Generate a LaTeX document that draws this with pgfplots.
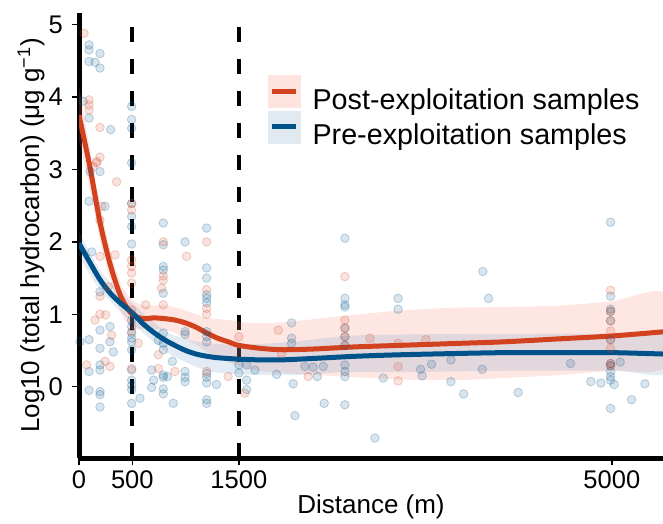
\documentclass[border=0pt]{standalone}
\usepackage{fontspec}
\setmainfont{Liberation Sans}
\usepackage{pgfplots}
\usepackage{pgfplotstable}
\pgfplotsset{compat=1.18}
\definecolor{postred}{HTML}{D2421F}
\definecolor{prebl}{HTML}{00538A}
\definecolor{postband}{HTML}{FA8072}
\definecolor{preband}{HTML}{4682B4}
\definecolor{postkey}{HTML}{FEE4DE}
\definecolor{prekey}{HTML}{E1EAF0}

\pgfplotstableread{
x y
94 4.72
94 4.65
197 4.60
94 4.49
150 4.48
197 4.40
40 3.94
94 3.71
297 3.55
494 3.87
494 3.69
494 3.57
494 3.09
103 2.97
197 2.97
94 2.56
244 2.49
494 2.53
494 2.35
494 2.21
494 1.97
791 2.26
1198 2.19
995 2.00
791 1.96
791 1.66
791 1.61
791 1.29
1198 1.64
1198 1.50
1198 1.27
1198 1.22
1198 1.16
119 1.86
197 1.31
9 0.62
94 0.65
197 0.78
291 0.83
197 0.53
291 0.62
322 0.48
197 0.30
197 0.23
94 0.21
94 -0.05
197 -0.07
197 -0.11
197 -0.28
494 0.92
494 0.83
494 0.74
494 0.67
494 0.62
494 0.51
494 0.23
494 0.09
494 0.02
494 -0.04
494 -0.23
572 -0.16
791 0.74
791 0.60
791 0.51
791 0.16
791 0.13
791 -0.03
791 -0.10
682 0.23
700 0.09
682 -0.01
876 0.35
885 -0.23
744 0.64
830 0.14
995 0.76
995 0.72
995 0.21
995 0.13
995 0.07
1198 0.76
1198 0.69
1198 0.62
1198 0.18
1198 0.13
1198 0.05
1198 -0.18
1198 -0.23
1290 0.03
1500 0.30
1500 0.19
1573 0.30
1573 0.09
1573 -0.04
1651 0.23
1854 0.17
1995 0.88
1995 0.67
1995 0.60
2010 0.04
2026 -0.40
2120 0.28
2198 0.27
2292 0.28
2236 0.14
2301 -0.23
2495 2.05
2495 1.22
2495 1.13
2495 1.10
2495 0.81
2495 0.69
2495 0.57
2495 0.30
2495 0.21
2495 0.14
2495 -0.25
2777 -0.71
2855 0.12
2994 1.22
2994 1.07
3205 0.24
3220 0.15
3308 0.31
3490 0.37
3490 0.07
3609 -0.10
3790 1.59
3843 1.22
3784 0.24
4121 -0.08
4612 0.32
4803 0.07
4897 0.05
5022 0.03
5078 0.34
5185 -0.18
5310 0.04
4988 2.27
4988 1.25
4988 1.07
4988 1.04
4988 0.91
4988 0.65
4988 0.32
4988 0.29
4988 0.21
4988 0.14
4988 0.09
4988 -0.30
}\prepts

\pgfplotstableread{
x y
47 4.88
94 3.96
94 3.89
94 3.82
197 3.58
197 3.17
166 3.11
166 3.09
131 3.04
353 2.83
213 2.49
494 2.53
494 2.44
197 2.30
791 2.00
1198 2.00
1010 1.80
338 1.82
791 1.53
791 1.47
775 1.36
1198 1.34
494 1.75
494 1.66
494 1.57
494 1.43
197 1.80
197 1.25
275 1.38
197 1.00
250 0.99
150 0.92
306 0.71
244 0.35
291 0.28
72 0.30
494 1.06
494 0.76
556 0.60
494 0.25
791 1.13
744 0.44
744 0.25
900 0.21
626 1.13
1198 1.08
1198 1.00
1198 0.21
1400 0.14
1500 0.69
1557 -0.09
1870 0.78
1901 0.46
2151 0.14
2495 1.52
2495 0.92
2495 0.81
2495 0.69
2495 0.57
2730 0.67
2994 0.60
2994 0.28
2994 0.08
3255 0.65
4988 1.33
4988 1.04
4988 0.91
4988 0.77
4988 0.65
4988 0.53
4988 0.32
4988 0.29
}\postpts

\begin{document}
\begin{tikzpicture}
\useasboundingbox (0,0) rectangle (663pt,523pt);
\begin{axis}[
  at={(79pt,65pt)}, anchor=south west,
  scale only axis, width=584pt, height=445pt,
  xmin=0, xmax=5480, ymin=-0.985, ymax=5.16,
  axis x line*=bottom, axis y line*=left,
  axis line style={line width=5pt, -},
  xtick={0,500,1500,5000}, ytick={0,1,2,3,4,5},
  scaled x ticks=false,
  tick align=outside, major tick length=7pt,
  tick style={black, line width=1.5pt},
  /pgf/number format/assume math mode=true,
  /pgf/number format/1000 sep={},
  ticklabel style={font=\fontsize{25.5}{26}\selectfont},
  xticklabel style={anchor=base, yshift=-23.6pt, inner sep=0pt},
  yticklabel style={anchor=east, inner sep=0pt, xshift=-9pt},
  xlabel={Distance (m)},
  xlabel style={at={(axis description cs:0.5,-0.1258)}, anchor=base, font=\fontsize{26}{28}\selectfont},
  ylabel={Log10 (total hydrocarbon) (μg g\textsuperscript{−1})},
  ylabel style={at={(axis description cs:-0.082,0.5)}, anchor=center, font=\fontsize{26}{28}\selectfont},
  legend style={at={(axis description cs:0.3236,0.8607)}, anchor=north west, draw=none, fill=none,
    font=\fontsize{28.7}{30}\selectfont, inner sep=0pt, row sep=0pt, column sep=12pt,
    nodes={inner sep=0pt, anchor=west}},
  legend cell align=left,
]
% reference lines
\addplot[black, line width=4pt, dash pattern=on 15pt off 17pt, forget plot] coordinates {(500,-0.985) (500,5.16)};
\addplot[black, line width=4pt, dash pattern=on 15pt off 17pt, forget plot] coordinates {(1500,-0.985) (1500,5.16)};
% points
\addplot[only marks, mark=*, mark size=4.3pt, mark options={fill=prebl, draw=prebl, fill opacity=0.15, draw opacity=0.25, line width=0.8pt}, forget plot] table {\prepts};
\addplot[only marks, mark=*, mark size=4.3pt, mark options={fill=postred, draw=postred, fill opacity=0.15, draw opacity=0.25, line width=0.8pt}, forget plot] table {\postpts};
% confidence bands
\addplot[fill=postband, fill opacity=0.2, draw=none, smooth, forget plot] coordinates {
(0,4.15) (100,3.3) (200,2.5) (300,1.85) (400,1.4) (500,1.2) (600,1.12) (700,1.12) (800,1.12) (900,1.10) (1000,1.05) (1100,1.0) (1200,0.95) (1400,0.92) (1600,0.88) (1800,0.88) (2000,0.9) (2500,0.98) (3000,1.05) (3500,1.09) (4000,1.10) (4500,1.12) (5000,1.18) (5500,1.28)
(5500,0.28) (5000,0.22) (4500,0.16) (4000,0.12) (3500,0.09) (3000,0.10) (2500,0.14) (2000,0.18) (1800,0.20) (1600,0.24) (1400,0.34) (1200,0.48) (1100,0.58) (1000,0.66) (900,0.74) (800,0.78) (700,0.8) (600,0.8) (500,0.8) (400,1.0) (300,1.45) (200,2.0) (100,2.75) (0,3.40)
} -- cycle;
\addplot[fill=preband, fill opacity=0.15, draw=none, smooth, forget plot] coordinates {
(0,2.15) (200,1.6) (500,1.15) (800,0.78) (1000,0.66) (1200,0.6) (1500,0.58) (2000,0.62) (2500,0.70) (3000,0.72) (4000,0.73) (5000,0.73) (5500,0.72)
(5500,0.18) (5000,0.22) (4000,0.22) (3000,0.2) (2500,0.2) (2000,0.16) (1500,0.17) (1200,0.22) (1000,0.34) (800,0.50) (500,0.88) (200,1.33) (0,1.80)
} -- cycle;
% smooth curves
\addplot[postred, line width=5pt, smooth, forget plot] coordinates {
(0,3.75) (100,3.05) (200,2.25) (300,1.65) (400,1.22) (500,1.0) (600,0.94) (700,0.95) (800,0.94) (900,0.92) (1000,0.88) (1100,0.82) (1200,0.74) (1300,0.67) (1400,0.62) (1500,0.57) (1700,0.53) (1900,0.51) (2200,0.52) (2600,0.55) (3000,0.57) (3600,0.60) (4000,0.62) (4500,0.66) (5000,0.70) (5500,0.76)
};
\addplot[prebl, line width=5pt, smooth, forget plot] coordinates {
(0,1.98) (100,1.72) (200,1.47) (300,1.28) (400,1.14) (500,1.02) (600,0.87) (700,0.75) (800,0.65) (900,0.57) (1000,0.50) (1100,0.45) (1200,0.42) (1300,0.40) (1500,0.38) (1700,0.37) (1900,0.37) (2200,0.39) (2600,0.42) (3000,0.44) (3600,0.46) (4000,0.47) (4500,0.47) (5000,0.47) (5500,0.45)
};
\addlegendimage{legend image code/.code={\fill[postkey] (0pt,-8pt) rectangle (32pt,24pt); \draw[postred, line width=5pt] (4pt,8pt) -- (28pt,8pt);}}
\addlegendentry{Post-exploitation samples}
\addlegendimage{legend image code/.code={\fill[prekey] (0pt,-8pt) rectangle (32pt,24pt); \draw[prebl, line width=5pt] (4pt,8pt) -- (28pt,8pt);}}
\addlegendentry{Pre-exploitation samples}
\end{axis}
\end{tikzpicture}
\end{document}
